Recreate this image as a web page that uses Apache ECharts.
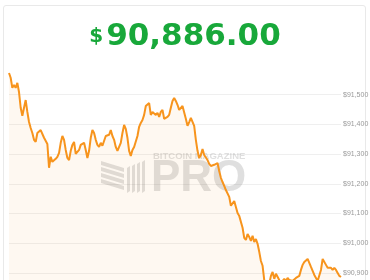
<!DOCTYPE html>
<html>
<head>
<meta charset="utf-8">
<script src="https://cdn.jsdelivr.net/npm/echarts@6/dist/echarts.min.js"></script>
<style>
html,body{margin:0;padding:0;background:#fff;}
#card{position:absolute;left:3px;top:5px;width:363px;height:300px;border:1px solid #e9e9e9;border-radius:3px;box-sizing:border-box;}
#chart{position:absolute;left:0;top:0;width:370px;height:280px;}
</style>
</head>
<body>
<div id="card"></div>
<div id="chart"></div>
<script>
const priceLabel = '90,886.00';
const yTicks = [90800, 90900, 91000, 91100, 91200, 91300, 91400, 91500, 91600];
const values = [
91573,91557,91523,91533,91523,91540,91509,91456,91429,91456,
91482,91442,91408,91388,91371,91348,91341,91371,91368,91381,
91378,91355,91355,91334,91254,91291,91274,91274,91284,91291,
91304,91338,91361,91348,91314,91287,91280,91311,91331,91341,
91301,91301,91314,91331,91328,91338,91314,91287,91311,91355,
91381,91371,91348,91331,91324,91338,91328,91328,91361,91355,
91365,91381,91361,91348,91324,91311,91314,91338,91371,91398,
91385,91355,91311,91294,91314,91324,91328,91361,91392,91405,
91415,91432,91462,91456,91472,91432,91442,91442,91432,91439,
91425,91442,91449,91419,91415,91425,91432,91456,91479,91489,
91479,91466,91449,91445,91462,91456,91419,91395,91408,91422,
91422,91395,91348,91311,91287,91297,91317,91297,91291,91280,
91267,91260,91260,91264,91267,91270,91243,91220,91206,91193,
91179,91173,91156,91126,91129,91142,91136,91102,91092,91092,
91052,91018,91011,91031,91021,91008,91025,91004,91014,90998,
90971,90940,90924,90876,90860,90853,90863,90890,90903,90880,
90897,90897,90876,90866,90870,90880,90873,90883,90876,90880,
90873,90876,90883,90883,90890,90910,90927,90937,90940,90947,
90944,90920,90907,90893,90883,90873,90876,90910,90947,90951,
90927,90917,90917,90917,90910,90917,90910,90900,90890,90886
];
const categories = values.map((_, i) => i);

const chart = echarts.init(document.getElementById('chart'), null, {renderer: 'canvas'});
const wmColor = 'rgba(120,120,120,0.24)';
const stripes = [];
[161, 167, 173, 179].forEach(function (y0) {
  stripes.push({type: 'polygon', shape: {points: [[101, y0], [124, y0 + 7], [124, y0 + 11], [101, y0 + 4]]}, style: {fill: wmColor}, z: 1});
});
[[127, 166], [132, 164], [137, 162], [142, 160]].forEach(function (b) {
  stripes.push({type: 'polygon', shape: {points: [[b[0], b[1] + 2], [b[0] + 3, b[1]], [b[0] + 3, 191], [b[0], 193]]}, style: {fill: wmColor}, z: 1});
});

chart.setOption({
  animation: false,
  grid: {left: 9, right: 29, top: 65, height: 237.6, containLabel: false, outerBoundsMode: 'none'},
  xAxis: {type: 'category', data: categories, boundaryGap: false, show: false},
  yAxis: {
    type: 'value', position: 'right', min: yTicks[0], max: yTicks[yTicks.length - 1], interval: 100,
    axisLine: {show: false}, axisTick: {show: false},
    splitLine: {show: true, showMaxLine: false, lineStyle: {color: '#efefef', width: 1}},
    axisLabel: {
      showMaxLabel: false, margin: 2, color: '#999', fontSize: 7, fontFamily: 'Liberation Sans',
      formatter: function (v) { return '$' + v.toLocaleString('en-US'); }
    }
  },
  graphic: [
    {type: 'text', left: 'center', top: 21, z: 10,
      style: {
        text: '{s|$}{n|' + priceLabel + '}',
        rich: {
          s: {fontSize: 20, fontWeight: 'bold', fontFamily: 'DejaVu Sans', fill: '#18a83a', padding: [0, 3, 0, 0]},
          n: {fontSize: 31, fontWeight: 'bold', fontFamily: 'DejaVu Sans', fill: '#18a83a'}
        }
      }
    },
    {type: 'text', x: 153, y: 151, z: 1, style: {text: 'BITCOIN MAGAZINE', fontSize: 9.5, fontWeight: 'bold', fontFamily: 'Liberation Sans', fill: wmColor}},
    {type: 'text', x: 151, y: 157, z: 1, style: {text: 'PRO', fontSize: 44, fontWeight: 'bold', fontFamily: 'Liberation Sans', fill: wmColor}}
  ].concat(stripes),
  series: [{
    type: 'line', data: values, symbol: 'none', smooth: false, z: 3,
    lineStyle: {color: '#f7941d', width: 2},
    areaStyle: {color: 'rgba(247,147,26,0.09)', origin: 'start'}
  }]
});
</script>
</body>
</html>
